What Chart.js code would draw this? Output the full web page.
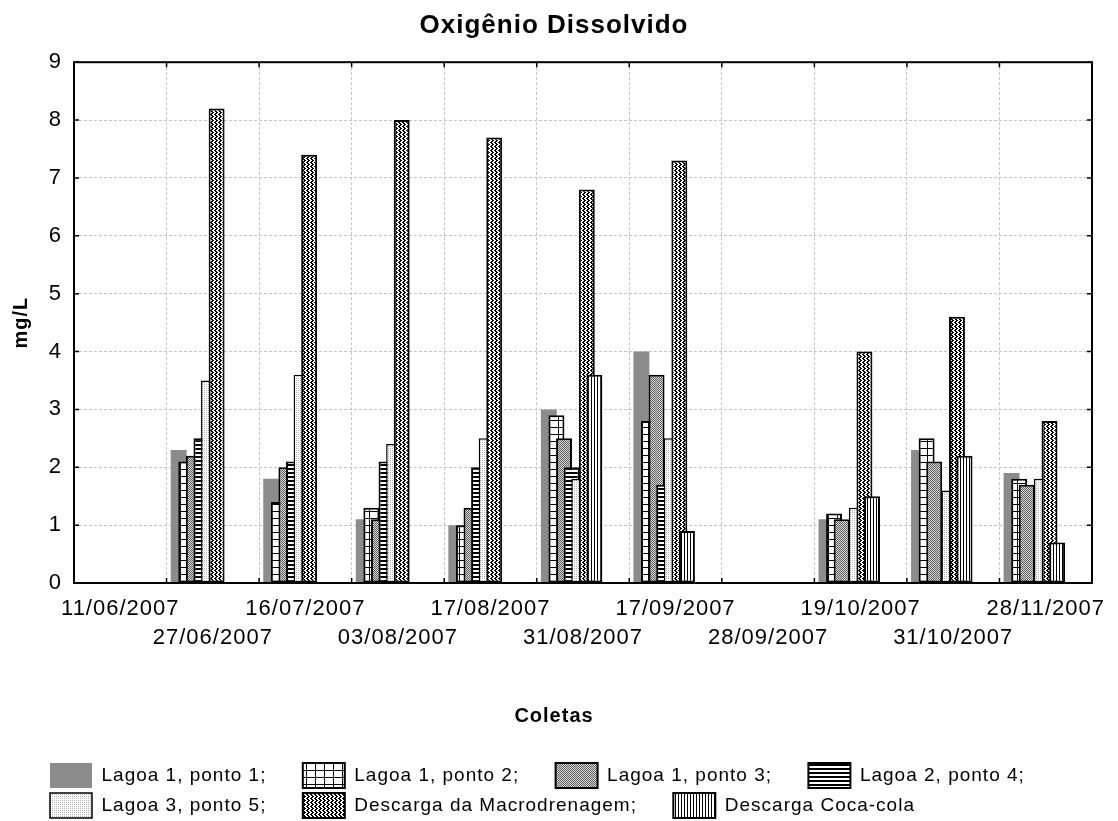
<!DOCTYPE html>
<html>
<head>
<meta charset="utf-8">
<title>Oxigênio Dissolvido</title>
<script src="https://cdn.jsdelivr.net/npm/chart.js@4.4.0/dist/chart.umd.min.js"></script>
<style>
    html, body { margin: 0; padding: 0; background: #fff; }
    canvas { display: block; }
</style>
</head>
<body>
<canvas id="chart" width="1118" height="821"></canvas>
<script>
// Sampling dates (one interval per date on the x axis)
const coletas = ['11/06/2007', '27/06/2007', '16/07/2007', '03/08/2007', '17/08/2007', '31/08/2007',
                 '17/09/2007', '28/09/2007', '19/10/2007', '31/10/2007', '28/11/2007'];

// Dissolved oxygen in mg/L, null where there is no sample
const lagoa1Ponto1 = [null, 2.3, 1.8, 1.1, 1.0, 3.0, 4.0, null, 1.1, 2.3, 1.9];
const lagoa1Ponto2 = [null, 2.1, 1.4, 1.3, 1.0, 2.9, 2.8, null, 1.2, 2.5, 1.8];
const lagoa1Ponto3 = [null, 2.2, 2.0, 1.1, 1.3, 2.5, 3.6, null, 1.1, 2.1, 1.7];
const lagoa2Ponto4 = [null, 2.5, 2.1, 2.1, 2.0, 2.0, 1.7, null, null, null, null];
const lagoa3Ponto5 = [null, 3.5, 3.6, 2.4, 2.5, 1.8, 2.5, null, 1.3, 1.6, 1.8];
const macrodrenagem = [null, 8.2, 7.4, 8.0, 7.7, 6.8, 7.3, null, 4.0, 4.6, 2.8];
const cocaCola = [null, null, null, null, null, 3.6, 0.9, null, 1.5, 2.2, 0.7];

const seriesNames = ['Lagoa 1, ponto 1', 'Lagoa 1, ponto 2', 'Lagoa 1, ponto 3', 'Lagoa 2, ponto 4',
                     'Lagoa 3, ponto 5', 'Descarga da Macrodrenagem', 'Descarga Coca-cola'];
const seriesValues = [lagoa1Ponto1, lagoa1Ponto2, lagoa1Ponto3, lagoa2Ponto4, lagoa3Ponto5, macrodrenagem, cocaCola];

const yMin = 0;
const yMax = 9;
const yStep = 1;

Chart.defaults.font.family = '"Liberation Sans", Arial, sans-serif';
Chart.defaults.color = '#000';

const ctx = document.getElementById('chart').getContext('2d');

// Small repeating tiles used as hatch fills
function makePattern(w, h, paint) {
    const tile = document.createElement('canvas');
    tile.width = w;
    tile.height = h;
    const p = tile.getContext('2d');
    p.fillStyle = '#fff';
    p.fillRect(0, 0, w, h);
    p.fillStyle = '#000';
    paint(p);
    return ctx.createPattern(tile, 'repeat');
}

const fills = [
    '#8c8c8c',
    makePattern(9, 7, p => { p.fillRect(0, 0, 9, 1); p.fillRect(0, 0, 1, 7); }),
    makePattern(2, 2, p => {
        p.fillStyle = '#d8d8d8'; p.fillRect(0, 0, 2, 2);
        p.fillStyle = '#606060'; p.fillRect(0, 0, 1, 1); p.fillRect(1, 1, 1, 1);
    }),
    makePattern(1, 4, p => { p.fillRect(0, 0, 1, 2); }),
    makePattern(2, 2, p => { p.fillStyle = '#b4b4b4'; p.fillRect(0, 0, 1, 1); }),
    // zigzag weave
    makePattern(4, 4, p => {
        for (let i = 0; i < 4; i++) {
            for (let j = 0; j < 4; j++) {
                const on = j < 2 ? (i + j) % 4 < 2 : (i - j + 8) % 4 < 2;
                if (on) p.fillRect(i, j, 1, 1);
            }
        }
    }),
    makePattern(3, 1, p => { p.fillRect(0, 0, 1, 1); })
];
const borderWidths = [0, 2, 2, 2, 1.5, 2, 2];

const datasets = seriesNames.map((name, i) => ({
    label: name,
    data: seriesValues[i],
    backgroundColor: fills[i],
    borderColor: '#000',
    borderWidth: borderWidths[i],
    borderSkipped: false
}));
// three empty slots after the real series push each group to the left of its interval
for (let k = 0; k < 3; k++) {
    datasets.push({ label: '', data: [] });
}

// Statistica-like text is a bit wider than plain Arial
const spacingPlugin = {
    id: 'spacing',
    beforeUpdate(chart) { chart.ctx.letterSpacing = '1px'; },
    beforeDraw(chart) { chart.ctx.letterSpacing = '1px'; }
};

// Overlapping bars: later series must sit on top of earlier ones
const drawOrderPlugin = {
    id: 'drawOrder',
    beforeDatasetsDraw(chart) {
        chart.getSortedVisibleDatasetMetas().forEach(meta => meta.controller.draw());
        return false;
    }
};

// Legend rows start a little right of the canvas edge
const legendShiftPlugin = {
    id: 'legendShift',
    afterLayout(chart) { chart.legend.left += 45; }
};

// Black box round the plot with short inward ticks
const framePlugin = {
    id: 'frame',
    afterDraw(chart) {
        const { ctx, chartArea: a, scales: { x, y } } = chart;
        ctx.save();
        ctx.strokeStyle = '#000';
        ctx.lineWidth = 2;
        ctx.strokeRect(a.left, a.top, a.right - a.left, a.bottom - a.top);
        ctx.lineWidth = 1.5;
        ctx.beginPath();
        y.ticks.forEach((t, i) => {
            const py = y.getPixelForTick(i);
            ctx.moveTo(a.left, py); ctx.lineTo(a.left + 5, py);
            ctx.moveTo(a.right, py); ctx.lineTo(a.right - 5, py);
        });
        const half = (x.getPixelForValue(1) - x.getPixelForValue(0)) / 2;
        for (let i = 1; i < coletas.length; i++) {
            const px = x.getPixelForValue(i) - half;
            ctx.moveTo(px, a.bottom); ctx.lineTo(px, a.bottom - 5);
            ctx.moveTo(px, a.top); ctx.lineTo(px, a.top + 5);
        }
        ctx.stroke();
        ctx.restore();
    }
};

new Chart(ctx, {
    type: 'bar',
    data: {
        labels: coletas,
        datasets: datasets
    },
    options: {
        responsive: false,
        animation: false,
        layout: { padding: { left: 0, right: 10, top: 0, bottom: -7 } },
        datasets: {
            bar: { categoryPercentage: 0.82, barPercentage: 2.1 }
        },
        scales: {
            x: {
                offset: true,
                grid: { offset: true, color: '#c4c4c4', drawTicks: false },
                border: { display: false, dash: [3, 2] },
                ticks: {
                    autoSkip: false,
                    maxRotation: 0,
                    minRotation: 0,
                    padding: 11,
                    font: { size: 22, lineHeight: 29 / 22 },
                    // alternate labels drop to a second row
                    callback: (value, index) => index % 2 === 0 ? [coletas[index]] : ['', coletas[index]]
                },
                afterFit: scale => { scale.height = 121; }
            },
            y: {
                min: yMin,
                max: yMax,
                grid: { color: '#c4c4c4', drawTicks: false },
                border: { display: false, dash: [3, 2] },
                ticks: { stepSize: yStep, padding: 12, font: { size: 22 } },
                title: {
                    display: true,
                    text: 'mg/L',
                    font: { size: 20, weight: 'bold' },
                    padding: { top: 9, bottom: 0 }
                },
                afterFit: scale => { scale.width = 74; }
            },
            y2: {
                type: 'linear',
                position: 'right',
                min: yMin,
                max: yMax,
                grid: { display: false, drawTicks: false },
                border: { display: false },
                ticks: { display: false },
                afterFit: scale => { scale.width = 16; }
            }
        },
        plugins: {
            title: {
                display: true,
                text: 'Oxigênio Dissolvido',
                font: { size: 26, weight: 'bold' },
                padding: { top: 10, bottom: 21 }
            },
            subtitle: {
                display: true,
                position: 'bottom',
                text: 'Coletas',
                font: { size: 20, weight: 'bold' },
                padding: { top: 0, bottom: 30 },
                weight: 500
            },
            legend: {
                position: 'bottom',
                align: 'start',
                labels: {
                    boxWidth: 42,
                    boxHeight: 25,
                    padding: 5,
                    font: { size: 19 },
                    filter: item => item.datasetIndex < seriesNames.length,
                    generateLabels: chart => Chart.defaults.plugins.legend.labels.generateLabels(chart).map(item => {
                        if (item.datasetIndex < seriesNames.length - 1) item.text += ';     ';
                        return item;
                    })
                }
            },
            tooltip: { enabled: false }
        }
    },
    plugins: [spacingPlugin, drawOrderPlugin, legendShiftPlugin, framePlugin]
});
</script>
</body>
</html>
